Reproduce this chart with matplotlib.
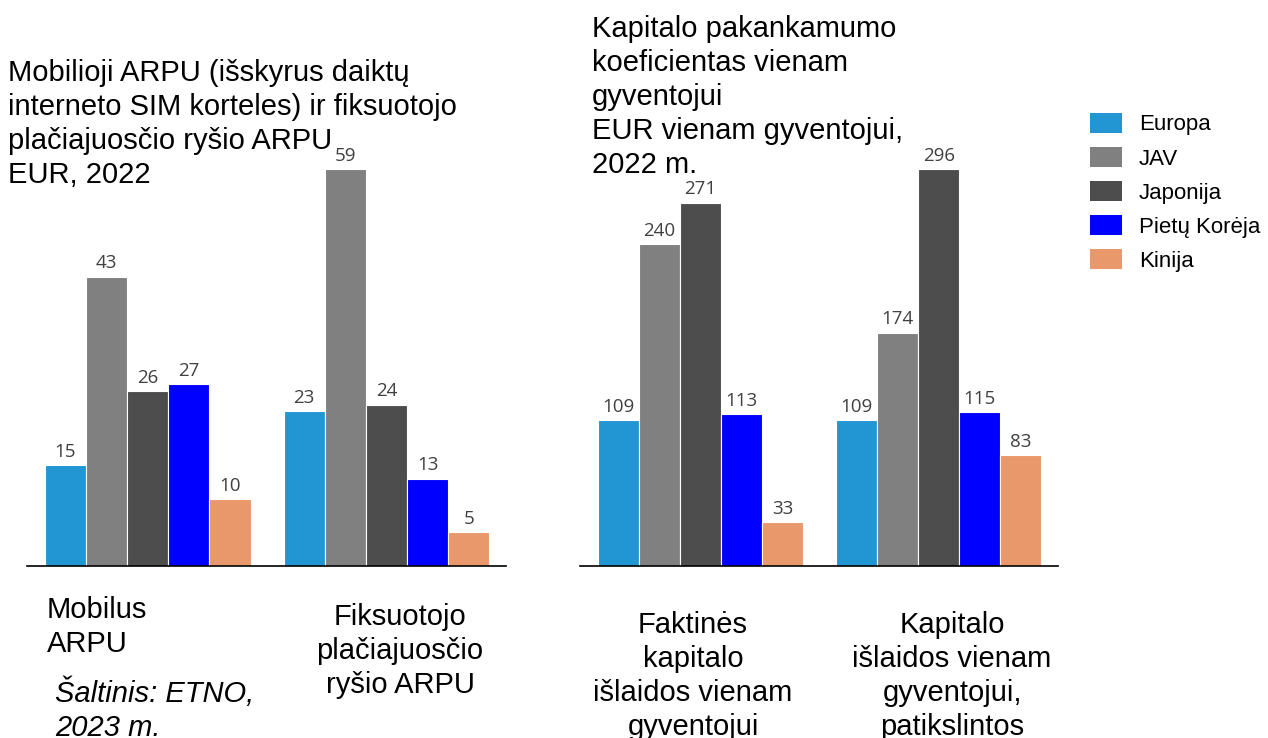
import numpy as np
import matplotlib.pyplot as plt
from matplotlib.patches import Patch

# data
regions = ["Europa", "JAV", "Japonija", "Pietų Korėja", "Kinija"]
colors = ["#2196D3", "#808080", "#4D4D4D", "#0000FF", "#E8986A"]

arpu_cats = ["Mobilus\nARPU", "Fiksuotojo\nplačiajuosčio\nryšio ARPU"]
arpu_vals = [
    [15, 23],   # Europa
    [43, 59],   # JAV
    [26, 24],   # Japonija
    [27, 13],   # Pietų Korėja
    [10, 5],    # Kinija
]

capex_cats = ["Faktinės\nkapitalo\nišlaidos vienam\ngyventojui",
              "Kapitalo\nišlaidos vienam\ngyventojui,\npatikslintos"]
capex_vals = [
    [109, 109],
    [240, 174],
    [271, 296],
    [113, 115],
    [33, 83],
]

title_left = "Mobilioji ARPU (išskyrus daiktų\ninterneto SIM korteles) ir fiksuotojo\nplačiajuosčio ryšio ARPU\nEUR, 2022"
title_right = "Kapitalo pakankamumo\nkoeficientas vienam\ngyventojui\nEUR vienam gyventojui,\n2022 m."
source = "Šaltinis: ETNO,\n2023 m."

W, H = 1268, 738
fig = plt.figure(figsize=(W / 100, H / 100), dpi=100)
TXT = "Liberation Sans"
NUM = "Open Sans"
FS = 21
LS = 1.27


def px_axes(x0, x1, y_bottom, y_top):
    return fig.add_axes([x0 / W, 1 - y_bottom / H, (x1 - x0) / W, (y_bottom - y_top) / H])


def draw_panel(ax, vals, ymax):
    n = len(vals)
    bw = 0.1723
    x = np.arange(len(vals[0]))
    for i, (v, c) in enumerate(zip(vals, colors)):
        pos = x + (i - (n - 1) / 2) * bw
        bars = ax.bar(pos, v, width=bw, color=c, edgecolor="white", linewidth=0.8)
        for b, val in zip(bars, v):
            ax.annotate(str(val), (b.get_x() + b.get_width() / 2, b.get_height()),
                        xytext=(0, 3), textcoords="offset points", ha="center", va="bottom",
                        fontsize=13.5, color="#404040", family=NUM)
    ax.set_xlim(-0.505, 1.5)
    ax.set_ylim(0, ymax)
    for s in ["top", "right", "left"]:
        ax.spines[s].set_visible(False)
    ax.spines["bottom"].set_color("black")
    ax.spines["bottom"].set_linewidth(1.2)
    ax.set_xticks([])
    ax.set_yticks([])
    ax.patch.set_alpha(0)


ax1 = px_axes(27, 506, 566, 140)
draw_panel(ax1, arpu_vals, 426 / 6.729)
ax2 = px_axes(580, 1058, 566, 140)
draw_panel(ax2, capex_vals, 426 / 1.3412)

# titles
fig.text(8 / W, 1 - 59 / H, title_left, ha="left", va="top", fontsize=FS,
         family=TXT, linespacing=LS)
fig.text(592 / W, 1 - 15 / H, title_right, ha="left", va="top", fontsize=FS,
         family=TXT, linespacing=LS)

# category labels
fig.text(47 / W, 1 - 596 / H, arpu_cats[0], ha="left", va="top", fontsize=FS,
         family=TXT, linespacing=LS)
fig.text(400 / W, 1 - 603 / H, arpu_cats[1], ha="center", va="top", fontsize=FS,
         family=TXT, linespacing=LS)
fig.text(693 / W, 1 - 611 / H, capex_cats[0], ha="center", va="top", fontsize=FS,
         family=TXT, linespacing=LS)
fig.text(952 / W, 1 - 611 / H, capex_cats[1], ha="center", va="top", fontsize=FS,
         family=TXT, linespacing=LS)

# source
fig.text(55 / W, 1 - 678 / H, source, ha="left", va="top", fontsize=FS,
         family=TXT, style="italic", linespacing=LS)

# legend
handles = [Patch(facecolor=c, edgecolor="none") for c in colors]
fig.legend(handles, regions, loc="upper left", bbox_to_anchor=(1081 / W, 1 - 104 / H),
           frameon=False, prop={"family": TXT, "size": 16}, handlelength=1.45,
           handleheight=1.0, handletextpad=0.75, labelspacing=0.52, borderaxespad=0)

fig.savefig("out.png", dpi=100)
